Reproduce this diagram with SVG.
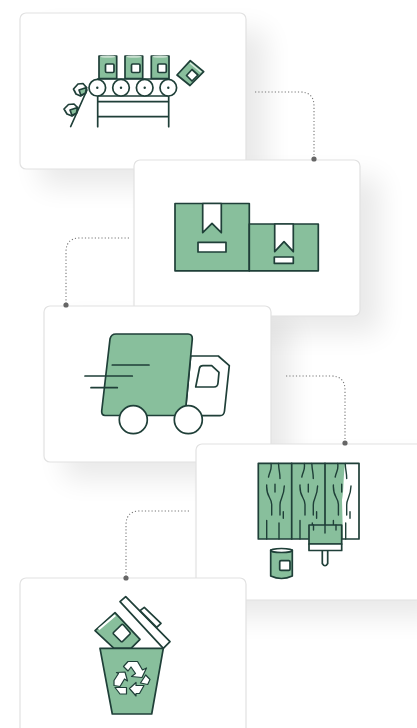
<svg xmlns="http://www.w3.org/2000/svg" width="417" height="728" viewBox="0 0 417 728">
<style>
.card{fill:#fff;stroke:#e2e2e2;stroke-width:1.2}
.shadow{fill:#000;opacity:.085;filter:url(#blur)}
.i{stroke:#1f3f38;stroke-width:1.7;stroke-linejoin:round;stroke-linecap:round}
.g{fill:#88bf9c}
.w{fill:#fff}
.n{fill:none}
.r{stroke-width:1.2}
.t{stroke-width:1.4}
.conn{fill:none;stroke:#777;stroke-width:1.1;stroke-dasharray:1.2 2.1}
.dot{fill:#666}
</style>
<defs>
<filter id="blur" x="-40%" y="-40%" width="180%" height="180%"><feGaussianBlur stdDeviation="14"/></filter>
<g id="can"><rect class="i g" x="0" y="0" width="17.7" height="22.5"/><ellipse cx="8.85" cy="0.6" rx="8" ry="1.2" fill="#c9dfd0"/><rect class="i w" x="6.500" y="8" width="8.500" height="8.500" rx="1.200"/></g>
<g id="grain" class="i n t"><path d="M271 463.500C272 470 270 470 268.500 477M278.500 463.500C279 472 280 472 280 478.500M266.700 485C266 498 272 497 271.700 505V515M284.300 486C284 497 280 498 280 505V515M275 484.300V492M283.300 511.700V518.300M266.700 520.500V539M279 523V539"/></g>
</defs>

<g id="shadows">
<rect class="shadow" x="40" y="30" width="226" height="156" rx="6"/>
<rect class="shadow" x="154" y="177" width="226" height="156" rx="6"/>
<rect class="shadow" x="64" y="323" width="226" height="156" rx="6"/>
<rect class="shadow" x="216" y="461" width="226" height="156" rx="6"/>
</g>

<g id="node-cans">
<rect class="card" x="20" y="13" width="226" height="156" rx="6"/>
<g transform="translate(99,56)"><use href="#can"/></g>
<g transform="translate(125,56)"><use href="#can"/></g>
<g transform="translate(151.300,56)"><use href="#can"/></g>
<path class="i g" d="M177 75L190.300 60.700L203.700 71.700L190 85.500Z"/>
<path d="M190.500 62.500L201.800 71.700L200.800 72.800L189.500 63.600Z" fill="#dcebe1"/>
<path class="i w" d="M192 69.500L198 75L192 81L186.500 75.500Z"/>
<path class="i n" d="M97.700 79H168.700M97.700 96H168.700M97.700 96V126.700M168.700 96V126.700M97.700 101.700H168.700M97.700 116.700H168.700"/>
<g class="i w"><circle cx="97.300" cy="87.700" r="8.300"/><circle cx="121" cy="87.700" r="8.300"/><circle cx="144.700" cy="87.700" r="8.300"/><circle cx="168.300" cy="87.700" r="8.300"/></g>
<g fill="#1f3f38"><circle cx="97.300" cy="87.700" r="1.200"/><circle cx="121" cy="87.700" r="1.200"/><circle cx="144.700" cy="87.700" r="1.200"/><circle cx="168.300" cy="87.700" r="1.200"/></g>
<path class="i n" d="M70.700 126.500L87 90"/>
<path class="i w" d="M73.500 89L78 84L83 83.500L86.500 87.500L85.500 93L80.500 96L76 94Z"/>
<path class="i g" d="M79 90L86.500 87.500L85.500 93L81 95.500Z"/>
<path class="i w" d="M64 109L68.500 104.500L74 104L77.500 107.500L76.500 113L72 116L67 114Z"/>
<path class="i g" d="M70 110L77.500 107.500L76.500 113L72 115.500Z"/>
</g>

<g id="node-boxes">
<rect class="card" x="134" y="160" width="226" height="156" rx="6"/>
<rect class="i g" x="175" y="203.500" width="74.300" height="67.300"/>
<rect class="i g" x="249.300" y="224" width="69" height="46.800"/>
<path class="i w" d="M202.700 203.500H221.300V232.700L212 223.300L202.700 232.700Z"/>
<rect class="i w" x="198" y="242.300" width="28" height="9.700"/>
<path class="i w" d="M274.700 224H293.300V251.700L284 241.700L274.700 251.700Z"/>
<rect class="i w" x="274.300" y="257" width="19" height="6.300"/>
</g>

<g id="node-truck">
<rect class="card" x="44" y="306" width="227" height="156" rx="6"/>
<path class="i w" d="M190.700 356H218.300L229.300 365.700L224.500 411Q224 415.700 220 415.700H185Z"/>
<path class="i w" d="M199.500 368Q200 365.700 203 365.700H211.700L219 372.300L218 383Q217.700 387 214 387H195.700Z"/>
<path class="i g" d="M116 334H188Q192.500 334 192.300 339L185 415.500H105Q101.500 415.500 101.700 411L110 339Q111 334 116 334Z"/>
<circle class="i w" cx="133.300" cy="419.700" r="14"/>
<circle class="i w" cx="188.300" cy="419.700" r="14"/>
<path class="i n" d="M112.300 365H149M85 376H132.300M91 387.700H117.300"/>
</g>

<g id="node-paint">
<rect class="card" x="196" y="444" width="240" height="156" rx="6"/>
<rect x="258.300" y="463.300" width="100.700" height="75.700" class="w"/>
<path class="g" d="M258.300 463.300H345C343 480 344 490 342 500L343 539H258.300Z"/>
<use href="#grain"/>
<use href="#grain" transform="translate(33.300,0)"/>
<use href="#grain" transform="translate(66.700,0)"/>
<rect class="i n" x="258.300" y="463.300" width="100.700" height="75.700"/>
<path class="i n" d="M291.700 463.300V539M325 463.300V539"/>
<path class="i w" d="M322.300 550V563.500Q325 568 327.700 563.500V550Z"/>
<rect class="i g" x="309" y="525" width="32.700" height="19"/>
<rect class="i w" x="309" y="544" width="32.700" height="6.500"/>
<path class="i n t" d="M325 525V533M313.500 525V530M336 525V530"/>
<path class="i g" d="M270.700 550V576Q281.500 581 292.300 576V550Z"/>
<ellipse class="i w" cx="281.500" cy="550.500" rx="10.800" ry="2"/>
<rect class="i w" x="279.700" y="560.700" width="10.300" height="9.700" rx="1.200"/>
</g>

<g id="node-bin">
<rect class="card" x="20" y="578" width="226" height="170" rx="6"/>
<path class="i w" d="M120 601.700L125.700 596.700L170 641.700L163.300 648.300Z"/>
<path class="i w" d="M140 610.700L144.300 607.300L161 623.300L156.700 627.300Z"/>
<path class="i g" d="M95 630.700L115 612.700L140 639.300L131 648.300H114Z"/>
<path d="M98 628.500L114.500 614.500L116 616L99.500 630Z" fill="#fff"/>
<path class="i w" d="M121.700 624.500Q122.500 624 123.500 625L130 632.500Q130.500 633.300 130 634L122.500 641.500Q121.700 642 121 641.500L113.500 634Q113 633.300 113.500 632.500Z"/>
<path class="i g" d="M100 648.300H163.300L151.700 714H112.300Z"/>
<g class="i w r">
<path d="M123.500 666.500L128 661.500H137.500L142.500 670L146.500 668L142 677.500L131.500 676.500L135.500 673.500L131 667L128 671Z"/>
<path d="M129.500 688.500L136 682.500V685.500H144L139.500 693.500H136V696Z"/>
<path d="M140.500 683L145.700 675L150 679.500L147.700 684.500Z"/>
<path d="M114 680.500L118.500 673.500L116.500 672.500L125 672L127.500 681L124.500 679L120 686.500L114 685.500Z"/>
<path d="M115 687.500H126.500V694H120Z"/>
</g>
</g>

<g id="connectors">
<path class="conn" d="M255 92H300Q314 92 314 106V159"/>
<path class="conn" d="M129 238H80Q66 238 66 252V305"/>
<path class="conn" d="M286 376H331Q345 376 345 390V443"/>
<path class="conn" d="M189 511H140Q126 511 126 525V578"/>
<circle class="dot" cx="314" cy="159" r="2.600"/>
<circle class="dot" cx="66" cy="305" r="2.600"/>
<circle class="dot" cx="345" cy="443" r="2.600"/>
<circle class="dot" cx="126" cy="578" r="2.600"/>
</g>
</svg>
